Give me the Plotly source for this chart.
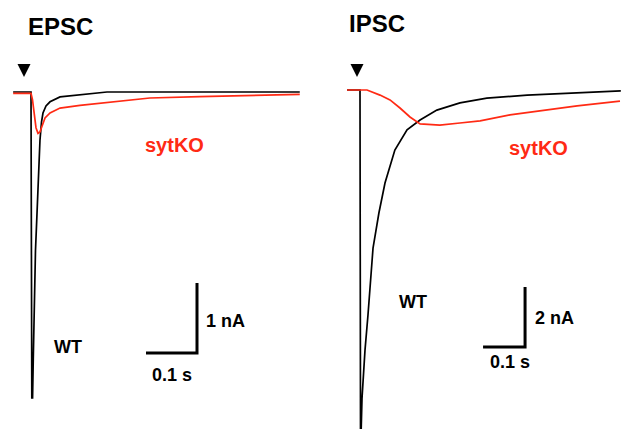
import plotly.graph_objects as go

# ---------------- data (time in ms, current in nA) ----------------
epsc_wt_t = [-35, 0, 1.6, 3.1, 4.5, 6.9, 8.8, 11.8, 14.3, 17.6, 20.6, 23.5, 29.4, 37.3, 56.9, 102, 149, 527]
epsc_wt_i = [0, 0, -4.37, -4.37, -3.80, -2.83, -2.26, -1.73, -1.26, -0.69, -0.43, -0.30, -0.20, -0.14, -0.07, -0.04, 0, 0]

epsc_ko_t = [-35, 0, 2.9, 5.9, 9.8, 13.7, 17.6, 21.6, 27.5, 37.3, 56.9, 96, 135, 233, 331, 429, 527]
epsc_ko_i = [-0.02, -0.02, -0.11, -0.33, -0.51, -0.59, -0.57, -0.49, -0.37, -0.30, -0.23, -0.19, -0.16, -0.086, -0.067, -0.053, -0.033]

ipsc_wt_t = [-31, 0, 1.2, 2.9, 4.8, 11.9, 19, 31, 45, 59.5, 83, 112, 143, 183, 238, 302, 398, 555, 621]
ipsc_wt_i = [0, 0, -11.27, -11.27, -10.27, -8.67, -7.5, -5.27, -4.1, -3.1, -2.0, -1.33, -1.0, -0.67, -0.43, -0.27, -0.17, -0.07, -0.03]

ipsc_ko_t = [-31, 16.7, 47.6, 71.4, 95.2, 119, 143, 190, 238, 286, 357, 436, 517, 619]
ipsc_ko_i = [0, 0, -0.17, -0.33, -0.6, -0.9, -1.13, -1.17, -1.1, -1.03, -0.83, -0.67, -0.53, -0.37]

scale_time_ms = 100
epsc_scale_nA = 1
ipsc_scale_nA = 2

panel_titles = ["EPSC", "IPSC"]
series_names = ["WT", "sytKO"]
time_label = "0.1 s"
epsc_amp_label = "1 nA"
ipsc_amp_label = "2 nA"

# ---------------- styling ----------------
BLACK = "#000000"
RED = "#ff2a14"
FONT = "Liberation Sans, Arial, Helvetica, sans-serif"
LW = 1.7
SW = 3

fig = go.Figure()

def trace(t, i, color, xa, ya, width=LW):
    fig.add_trace(go.Scatter(x=t, y=i, mode="lines", line=dict(color=color, width=width),
                             xaxis=xa, yaxis=ya, showlegend=False, hoverinfo="skip"))

# EPSC traces
trace(epsc_wt_t, epsc_wt_i, BLACK, "x", "y")
trace(epsc_ko_t, epsc_ko_i, RED, "x", "y")
# IPSC traces
trace(ipsc_wt_t, ipsc_wt_i, BLACK, "x2", "y2")
trace(ipsc_ko_t, ipsc_ko_i, RED, "x2", "y2")

# scale bars (corner positions)
e_cx, e_cy = 325.5, -3.73
i_cx, i_cy = 393.0, -8.57
trace([e_cx - scale_time_ms, e_cx, e_cx], [e_cy, e_cy, e_cy + epsc_scale_nA], BLACK, "x", "y", SW)
trace([i_cx - scale_time_ms, i_cx, i_cx], [i_cy, i_cy, i_cy + ipsc_scale_nA], BLACK, "x2", "y2", SW)

# stimulus markers
fig.add_trace(go.Scatter(x=[-13.7], y=[0.214], mode="markers",
                         marker=dict(symbol="arrow-down", size=13, color=BLACK, line=dict(width=0)),
                         xaxis="x", yaxis="y", showlegend=False, hoverinfo="skip"))
fig.add_trace(go.Scatter(x=[-7.1], y=[0.43], mode="markers",
                         marker=dict(symbol="arrow-down", size=13, color=BLACK, line=dict(width=0)),
                         xaxis="x2", yaxis="y2", showlegend=False, hoverinfo="skip"))

def ann(text, x, y, xref, yref, size, color=BLACK, bold=True, xanchor="center"):
    t = f"<b>{text}</b>" if bold else text
    fig.add_annotation(text=t, x=x, y=y, xref=xref, yref=yref, showarrow=False,
                       xanchor=xanchor, yanchor="middle",
                       font=dict(family=FONT, size=size, color=color))

# EPSC labels
ann(panel_titles[0], 56.9, 0.93, "x", "y", 24)
ann(series_names[1], 281.4, -0.757, "x", "y", 20, RED)
ann(series_names[0], 73.5, -3.64, "x", "y", 18)
ann(epsc_amp_label, 339, -3.27, "x", "y", 18, xanchor="left")
ann(time_label, 275.5, -4.04, "x", "y", 18)

# IPSC labels
ann(panel_titles[1], 40.5, 2.23, "x2", "y2", 24)
ann(series_names[1], 425, -1.93, "x2", "y2", 20, RED)
ann(series_names[0], 125, -7.07, "x2", "y2", 18)
ann(ipsc_amp_label, 412, -7.6, "x2", "y2", 18, xanchor="left")
ann(time_label, 357, -9.07, "x2", "y2", 18)

hidden = dict(visible=False, showgrid=False, zeroline=False, fixedrange=True)
split = 310 / 621
fig.update_layout(
    width=621, height=429,
    margin=dict(l=0, r=0, t=0, b=0),
    paper_bgcolor="white", plot_bgcolor="white",
    xaxis=dict(domain=[0, split], range=[-60.78, 547.06], **hidden),
    yaxis=dict(domain=[0, 1], range=[-4.8143, 1.3143], **hidden),
    xaxis2=dict(domain=[split, 1], range=[-119.05, 621.43], anchor="y2", **hidden),
    yaxis2=dict(domain=[0, 1], range=[-11.3, 3.0], anchor="x2", **hidden),
    showlegend=False,
)

fig.write_html("out.html")
